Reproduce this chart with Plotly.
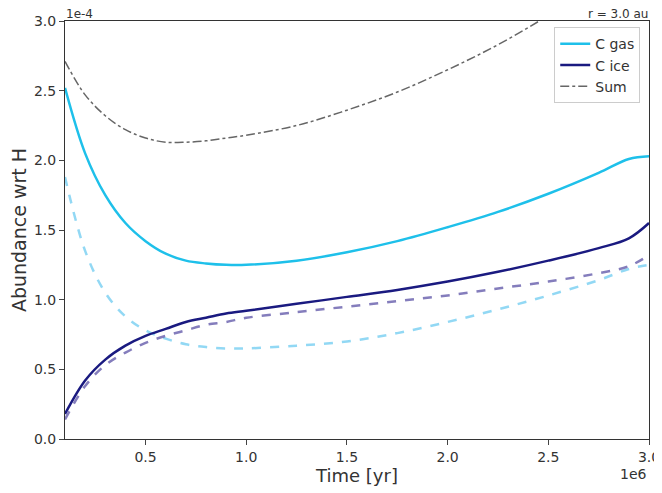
import plotly.graph_objects as go

# time in units of 1e6 yr, abundances in units of 1e-4
t = [0.1, 0.2, 0.3, 0.4, 0.5, 0.6, 0.7, 0.8, 0.9, 1.0, 1.25, 1.5, 1.75, 2.0, 2.25, 2.5, 2.75, 2.9, 3.0]
c_gas = [2.52, 2.05, 1.75, 1.55, 1.42, 1.33, 1.28, 1.26, 1.25, 1.25, 1.28, 1.34, 1.42, 1.52, 1.63, 1.76, 1.91, 2.01, 2.03]
c_ice = [0.18, 0.42, 0.57, 0.67, 0.74, 0.79, 0.84, 0.87, 0.90, 0.92, 0.97, 1.02, 1.07, 1.13, 1.20, 1.28, 1.37, 1.44, 1.55]
c_sum = [2.71, 2.47, 2.32, 2.22, 2.16, 2.13, 2.13, 2.14, 2.16, 2.18, 2.25, 2.36, 2.49, 2.65, 2.83, 3.04, 3.28, 3.45, 3.58]
c_gas_ref = [1.88, 1.35, 1.05, 0.88, 0.78, 0.72, 0.68, 0.66, 0.65, 0.65, 0.67, 0.70, 0.76, 0.84, 0.93, 1.03, 1.14, 1.22, 1.25]
c_ice_ref = [0.14, 0.38, 0.53, 0.62, 0.69, 0.74, 0.78, 0.82, 0.84, 0.87, 0.91, 0.95, 0.99, 1.03, 1.08, 1.13, 1.19, 1.24, 1.32]

fig = go.Figure()
fig.add_trace(go.Scatter(x=t, y=c_gas_ref, mode='lines', line=dict(color='rgba(100,200,240,0.7)', width=2.5, dash='dash', shape='spline'), showlegend=False))
fig.add_trace(go.Scatter(x=t, y=c_ice_ref, mode='lines', line=dict(color='rgba(80,70,160,0.7)', width=2.5, dash='dash', shape='spline'), showlegend=False))
fig.add_trace(go.Scatter(x=t, y=c_gas, mode='lines', name='C gas', line=dict(color='#1ec0ea', width=2.5, shape='spline')))
fig.add_trace(go.Scatter(x=t, y=c_ice, mode='lines', name='C ice', line=dict(color='#1a1a80', width=2.5, shape='spline')))
fig.add_trace(go.Scatter(x=t, y=c_sum, mode='lines', name='Sum', line=dict(color='#666666', width=1.5, dash='dashdot', shape='spline')))

fig.update_layout(
    width=654, height=485, plot_bgcolor='white', paper_bgcolor='white',
    margin=dict(l=57, r=13, t=13, b=54, autoexpand=False),
    font=dict(family='DejaVu Sans', color='#333', size=14),
    legend=dict(x=0.985, y=0.985, xanchor='right', yanchor='top', bordercolor='#ccc', borderwidth=1, font=dict(size=14)),
    xaxis=dict(title=dict(text='Time [yr]', font=dict(size=18), standoff=4), range=[0.1, 3.0],
               tickvals=[0.5, 1.0, 1.5, 2.0, 2.5, 3.0], tickformat='.1f', ticks='outside',
               showgrid=False, showline=True, linecolor='#333', mirror=True, zeroline=False, automargin=False),
    yaxis=dict(title=dict(text='Abundance wrt H', font=dict(size=19)), range=[0, 3.0], dtick=0.5,
               tickformat='.1f', ticks='outside', showgrid=False, showline=True, linecolor='#333',
               mirror=True, zeroline=False, automargin=False),
    annotations=[
        dict(text='1e-4', x=0, y=1, xref='paper', yref='paper', xanchor='left', yanchor='bottom', showarrow=False, borderpad=0, yshift=-1, font=dict(size=12)),
        dict(text='1e6', x=1, y=-0.06, xref='paper', yref='paper', xanchor='right', yanchor='top', showarrow=False, font=dict(size=14)),
        dict(text='r = 3.0 au', x=1, y=1, xref='paper', yref='paper', xanchor='right', yanchor='bottom', showarrow=False, borderpad=0, yshift=-1, font=dict(size=12)),
    ],
)
fig.write_html("out.html")
